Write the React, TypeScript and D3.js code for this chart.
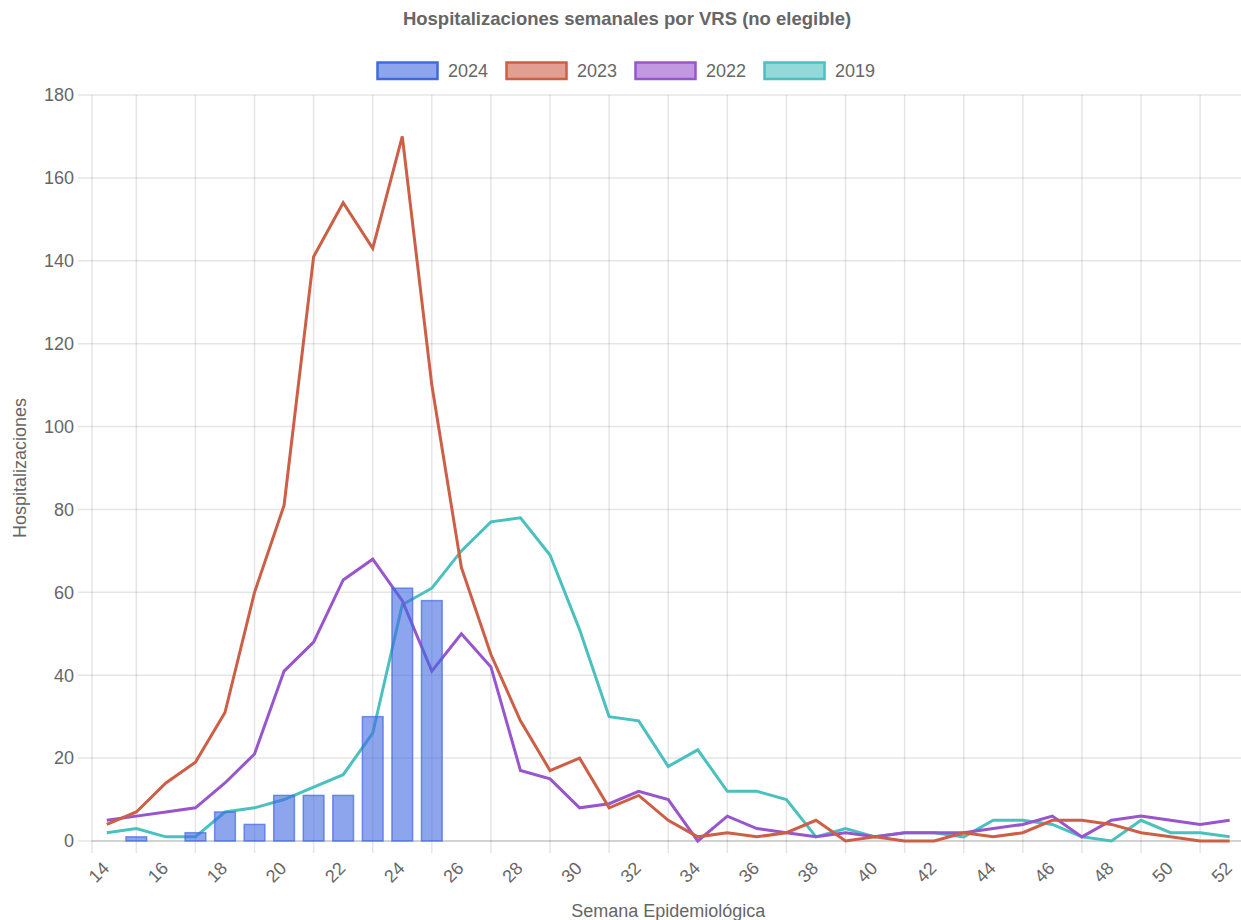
import React from "react";
import * as d3 from "d3";

// semanas epidemiologicas 14..52
const weeks = d3.range(14, 53);

const hosp2024 = [0, 1, 0, 2, 7, 4, 11, 11, 11, 30, 61, 58];
const hosp2023 = [4, 7, 14, 19, 31, 60, 81, 141, 154, 143, 170, 110, 66, 45, 29, 17, 20, 8, 11, 5, 1, 2, 1, 2, 5, 0, 1, 0, 0, 2, 1, 2, 5, 5, 4, 2, 1, 0, 0];
const hosp2022 = [5, 6, 7, 8, 14, 21, 41, 48, 63, 68, 58, 41, 50, 42, 17, 15, 8, 9, 12, 10, 0, 6, 3, 2, 1, 2, 1, 2, 2, 2, 3, 4, 6, 1, 5, 6, 5, 4, 5];
const hosp2019 = [2, 3, 1, 1, 7, 8, 10, 13, 16, 26, 57, 61, 70, 77, 78, 69, 51, 30, 29, 18, 22, 12, 12, 10, 1, 3, 1, 2, 2, 1, 5, 5, 4, 1, 0, 5, 2, 2, 1];

const yTicks = d3.range(0, 181, 20);

const lineSeries = [
  { name: "2019", values: hosp2019, color: "rgb(75,192,192)" },
  { name: "2022", values: hosp2022, color: "rgb(153,85,204)" },
  { name: "2023", values: hosp2023, color: "rgb(204,95,70)" },
];

const legendItems = [
  { name: "2024", color: "rgb(65,105,225)" },
  { name: "2023", color: "rgb(204,95,70)" },
  { name: "2022", color: "rgb(153,85,204)" },
  { name: "2019", color: "rgb(75,192,192)" },
];

export default function App() {
  const width = 1241;
  const height = 920;
  const left = 92;
  const top = 95;
  const bottom = 841;
  const right = left + weeks.length * 29.55;

  const x = d3.scaleBand<number>().domain(weeks).range([left, right]).padding(0);
  const bw = x.bandwidth();
  const cx = (w: number) => (x(w) as number) + bw / 2;
  const y = d3.scaleLinear().domain([0, 180]).range([bottom, top]);

  const line = d3
    .line<number>()
    .x((d, i) => cx(weeks[i]))
    .y((d) => y(d));

  const gridWeeks = weeks.filter((w) => w % 2 === 1);
  const labelWeeks = weeks.filter((w) => w % 2 === 0);
  const barW = bw * 0.7;
  const font = "'Liberation Sans', Arial, sans-serif";
  const grid = "rgba(0,0,0,0.1)";

  return (
    <svg
      width={width}
      height={height}
      style={{ position: "absolute", left: 0, top: 0, background: "#fff" }}
      fontFamily={font}
    >
      <text x={627} y={25} textAnchor="middle" fontSize={18.5} fontWeight="bold" fill="#666">
        Hospitalizaciones semanales por VRS (no elegible)
      </text>

      {/* leyenda */}
      {legendItems.map((d, i) => {
        const lx = 376 + i * 129;
        return (
          <g key={d.name}>
            <rect
              x={lx + 1.5}
              y={62.5}
              width={60}
              height={16.5}
              fill={d.color}
              fillOpacity={0.6}
              stroke={d.color}
              strokeWidth={2.5}
            />
            <text x={lx + 72} y={76.5} fontSize={18} fill="#666">
              {d.name}
            </text>
          </g>
        );
      })}

      {/* grilla */}
      {yTicks.map((t) => (
        <g key={"y" + t}>
          <line x1={78} x2={right} y1={y(t)} y2={y(t)} stroke={grid} strokeWidth={1.5} />
          <text x={74} y={y(t)} dy="0.35em" textAnchor="end" fontSize={18} fill="#666">
            {t}
          </text>
        </g>
      ))}
      <line x1={left} x2={left} y1={top} y2={bottom + 12} stroke={grid} strokeWidth={1.5} />
      {gridWeeks.map((w) => (
        <line key={"g" + w} x1={cx(w)} x2={cx(w)} y1={top} y2={bottom + 12} stroke={grid} strokeWidth={1.5} />
      ))}
      <line x1={left} x2={right} y1={bottom} y2={bottom} stroke="rgba(0,0,0,0.15)" strokeWidth={1.5} />

      {labelWeeks.map((w) => (
        <text
          key={"l" + w}
          transform={`translate(${cx(w) - 1},${865}) rotate(-45)`}
          textAnchor="end"
          dy="0.35em"
          fontSize={18}
          fill="#666"
        >
          {w}
        </text>
      ))}

      {/* series */}
      {lineSeries.map((s) => (
        <path
          key={s.name}
          d={line(s.values) || ""}
          fill="none"
          stroke={s.color}
          strokeWidth={3}
          strokeLinejoin="miter"
        />
      ))}
      {hosp2024.map((v, i) =>
        v > 0 ? (
          <rect
            key={"b" + i}
            x={cx(weeks[i]) - barW / 2}
            y={y(v)}
            width={barW}
            height={y(0) - y(v)}
            fill="rgb(65,105,225)"
            fillOpacity={0.6}
            stroke="rgb(65,105,225)"
            strokeOpacity={0.7}
            strokeWidth={1.5}
          />
        ) : null
      )}

      <text
        transform={`translate(20,${(top + bottom) / 2}) rotate(-90)`}
        textAnchor="middle"
        dy="0.35em"
        fontSize={18}
        fill="#666"
      >
        Hospitalizaciones
      </text>
      <text x={(left + right) / 2} y={917} textAnchor="middle" fontSize={18} fill="#666">
        Semana Epidemiológica
      </text>
    </svg>
  );
}
